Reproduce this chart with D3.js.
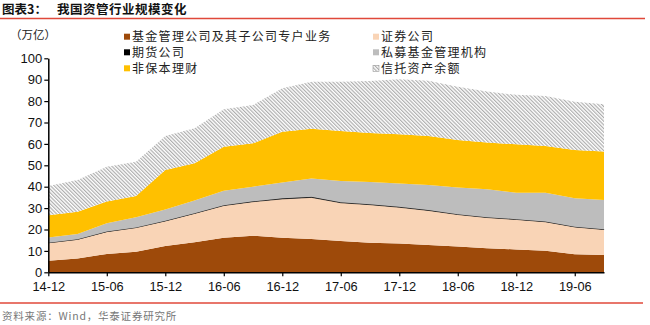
<!DOCTYPE html>
<html><head><meta charset="utf-8">
<script src="https://cdn.jsdelivr.net/npm/d3@7"></script>
<style>
body{margin:0;background:#fff;}
svg{display:block;}
text{font-family:"Liberation Sans",Arial,sans-serif;}
.cjk{font-family:"Noto Sans CJK SC",sans-serif;}
</style></head>
<body><svg id="c" width="650" height="325"></svg>
<script>
const categories = ["14-12","15-03","15-06","15-09","15-12","16-03","16-06","16-09","16-12","17-03","17-06","17-09","17-12","18-03","18-06","18-09","18-12","19-03","19-06","19-09"];
const seriesNames = ["基金管理公司及其子公司专户业务","证券公司","期货公司","私募基金管理机构","非保本理财","信托资产余额"];
const fundAccounts = [5.4,6.5,8.6,9.6,12.3,14.0,16.2,17.1,16.2,15.6,14.6,13.8,13.5,12.8,12.0,11.2,10.7,10.1,8.4,8.1];
const securities   = [8.4,8.9,10.4,11.3,11.7,13.5,15.0,15.9,18.1,19.4,17.9,17.8,16.9,16.1,15.0,14.4,14.0,13.5,12.8,11.9];
const futures      = [0.01,0.03,0.05,0.08,0.1,0.12,0.15,0.2,0.28,0.28,0.27,0.25,0.25,0.2,0.17,0.14,0.13,0.13,0.13,0.13];
const privateFunds = [2.4,2.5,3.9,4.7,5.3,5.9,6.7,6.8,7.4,8.6,9.9,10.4,10.9,11.7,12.5,13.1,12.4,13.5,13.3,13.7];
const wealthMgmt   = [10.4,10.4,10.1,10.0,18.4,17.4,20.6,20.3,23.7,23.2,23.3,22.9,23.0,22.9,22.1,21.8,22.6,21.8,22.5,22.6];
const trust        = [13.7,14.8,16.3,16.0,15.9,16.4,17.5,17.9,20.3,22.0,23.1,24.3,25.7,25.8,24.9,23.8,23.1,23.4,22.6,22.1];
const yTicks = [0,10,20,30,40,50,60,70,80,90,100];
const xTickLabels = ["14-12","15-06","15-12","16-06","16-12","17-06","17-12","18-06","18-12","19-06"];
const colors = ["#9E4A0A","#F9D4B6","#000000","#BDBDBD","#FFC000","url(#hatch)"];

const svg = d3.select("#c");
const defs = svg.append("defs");
const pat = defs.append("pattern").attr("id","hatch").attr("patternUnits","userSpaceOnUse")
  .attr("width",2.6).attr("height",2.6).attr("patternTransform","rotate(-45)");
pat.append("rect").attr("width",2.6).attr("height",2.6).attr("fill","#fff");
pat.append("line").attr("x1",0.6).attr("y1",0).attr("x2",0.6).attr("y2",2.6)
  .attr("stroke","#A8A8A8").attr("stroke-width",1.1);

const x = d3.scalePoint().domain(categories).range([48.3,604]);
const y = d3.scaleLinear().domain([0,100]).range([272.3,58.3]);

const rows = categories.map((c,i)=>({cat:c, s0:fundAccounts[i], s1:securities[i], s2:futures[i], s3:privateFunds[i], s4:wealthMgmt[i], s5:trust[i]}));
const stack = d3.stack().keys(["s0","s1","s2","s3","s4","s5"]);
const layers = stack(rows);
const area = d3.area().x(d=>x(d.data.cat)).y0(d=>y(d[0])).y1(d=>y(d[1]));

svg.append("g").selectAll("path").data(layers).join("path")
  .attr("d",area).attr("fill",(d,i)=>colors[i])
  .attr("stroke",(d,i)=> i===2 ? "#222" : "none")
  .attr("stroke-width",(d,i)=> i===2 ? 0.7 : 0);

// axes
const yAxis = d3.axisLeft(y).tickValues(yTicks).tickSize(4).tickSizeOuter(0);
const gy = svg.append("g").attr("transform","translate(48.3,0)").call(yAxis);
gy.select(".domain").attr("stroke","#000").attr("stroke-width",1.5);
gy.selectAll(".tick line").attr("stroke","#000").attr("stroke-width",1.2);
gy.selectAll("text").attr("font-size",13).attr("fill","#111").attr("x",-6).attr("font-family","Liberation Sans, Arial, sans-serif");

const xAxis = d3.axisBottom(x).tickValues(xTickLabels).tickSize(4).tickSizeOuter(0);
const gx = svg.append("g").attr("transform","translate(0,272.3)").call(xAxis);
gx.select(".domain").attr("stroke","#000").attr("stroke-width",1.5);
gx.selectAll(".tick line").attr("stroke","#000").attr("stroke-width",1.2);
gx.selectAll("text").attr("font-size",12.8).attr("fill","#111").attr("y",10).attr("font-family","Liberation Sans, Arial, sans-serif");

// title
svg.append("text").attr("class","cjk").attr("x",2).attr("y",14).attr("font-size",12.5).attr("font-weight","bold").attr("fill","#111").text("图表3：");
svg.append("text").attr("class","cjk").attr("x",57).attr("y",14).attr("font-size",12.5).attr("font-weight","bold").attr("fill","#111").attr("letter-spacing",0.5).text("我国资管行业规模变化");
svg.append("line").attr("x1",0).attr("x2",645).attr("y1",18.5).attr("y2",18.5).attr("stroke","#E0483A").attr("stroke-width",1.6);
svg.append("line").attr("x1",0).attr("x2",643).attr("y1",303).attr("y2",303).attr("stroke","#E0483A").attr("stroke-width",1.6);
svg.append("text").attr("class","cjk").attr("x",2).attr("y",320).attr("font-size",10.5).attr("fill","#777").attr("letter-spacing",0.8).text("资料来源：Wind，华泰证券研究所");

svg.append("text").attr("class","cjk").attr("x",10).attr("y",39).attr("font-size",11.5).attr("fill","#222").text("（万亿）");

// legend
const legPos = [[124,36.7],[373,36.7],[124,52.3],[373,52.3],[124,68.3],[373,68.3]];
const leg = svg.append("g").selectAll("g").data(seriesNames).join("g")
  .attr("transform",(d,i)=>`translate(${legPos[i][0]},${legPos[i][1]})`);
leg.append("rect").attr("x",0).attr("y",-3).attr("width",6).attr("height",6)
  .attr("fill",(d,i)=>colors[i]).attr("stroke",(d,i)=> i===5 ? "#999" : "none").attr("stroke-width",0.6);
leg.append("text").attr("class","cjk").attr("x",8).attr("y",4.5).attr("font-size",12).attr("letter-spacing",1.3).attr("fill","#222").text(d=>d);
</script></body></html>
